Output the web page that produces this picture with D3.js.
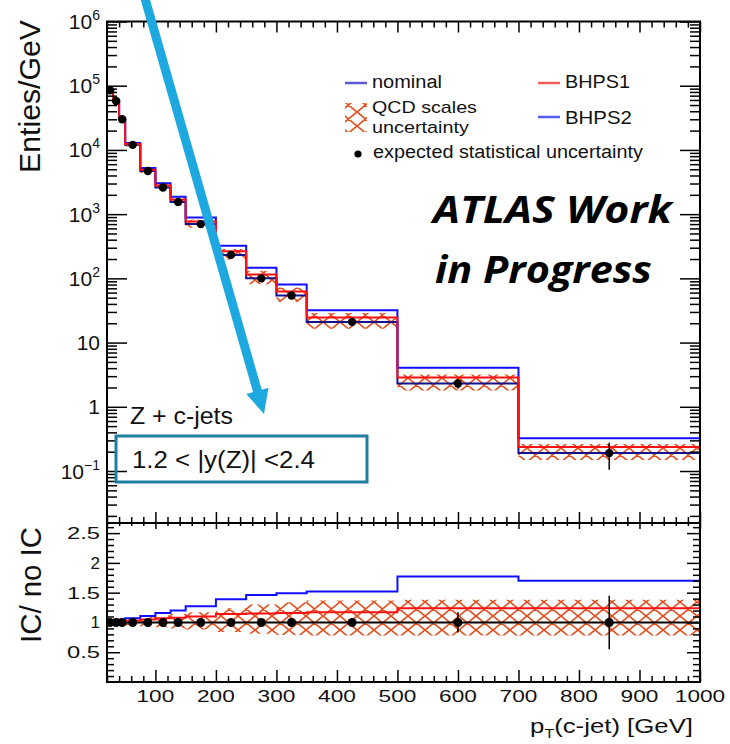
<!DOCTYPE html>
<html>
<head>
<meta charset="utf-8">
<script src="https://cdn.jsdelivr.net/npm/d3@7"></script>
<style>
  html, body { margin: 0; padding: 0; background: #fff; }
  svg { display: block; }
  text { font-family: "Liberation Sans", Arial, Helvetica, sans-serif; fill: #111; }
</style>
</head>
<body>
<svg id="chart" width="730" height="744"></svg>
<script>
// ---- data: Z + c-jet pT spectrum, 1.2 < |y(Z)| < 2.4 ----
const binEdges   = [20, 30, 40, 50, 75, 100, 125, 150, 200, 250, 300, 350, 500, 700, 1000];
// nominal prediction (entries / GeV), one value per bin
const nominal    = [8.5e4, 5.8e4, 3.0e4, 1.2e4, 4.7e3, 2.6e3, 1.55e3, 700, 232, 100, 54, 21, 2.3, 0.19];
// intrinsic-charm models relative to the no-IC prediction
const ratioBHPS1 = [1.01, 1.01, 1.02, 1.03, 1.05, 1.07, 1.08, 1.10, 1.14, 1.15, 1.16, 1.17, 1.24, 1.24];
const ratioBHPS2 = [1.04, 1.04, 1.05, 1.07, 1.11, 1.16, 1.20, 1.27, 1.39, 1.46, 1.49, 1.52, 1.77, 1.70];
// QCD scale variation envelope, relative to nominal
const scaleLo    = [0.96, 0.96, 0.95, 0.94, 0.93, 0.92, 0.90, 0.88, 0.84, 0.81, 0.79, 0.78, 0.78, 0.78];
const scaleHi    = [1.05, 1.05, 1.06, 1.08, 1.10, 1.12, 1.14, 1.17, 1.24, 1.30, 1.34, 1.37, 1.38, 1.38];
// expected relative statistical uncertainty
const statRelErr = [0.005, 0.005, 0.006, 0.007, 0.01, 0.012, 0.015, 0.015, 0.02, 0.03, 0.04, 0.05, 0.17, 0.45];

const xMajorTicks  = [100, 200, 300, 400, 500, 600, 700, 800, 900, 1000];
const yMainTicks   = [0.1, 1, 10, 100, 1e3, 1e4, 1e5, 1e6];
const yMainLabels  = [["10", "\u22121"], ["1", null], ["10", null], ["10", "2"], ["10", "3"], ["10", "4"], ["10", "5"], ["10", "6"]];
const yRatioTicks  = [0.5, 1, 1.5, 2, 2.5];
const yRatioLabels = ["0.5", "1", "1.5", "2", "2.5"];

const C = {
  nominal: "#12128c", bhps1: "#ff1010", bhps2: "#1010ff", hatch: "#e2501f",
  arrow: "#1ea8e0", box: "#1f7fa0"
};

// ---- layout ----
const L = 107, R = 700, T = 21.5, MID = 523, B = 682;
const svg = d3.select("#chart");

const x = d3.scaleLinear().domain([20, 1000]).range([L, R]);
const yMain = d3.scaleLog().domain([0.0155, 1e6]).range([MID, T]);
const yRatio = d3.scaleLinear().domain([0, 2.67]).range([B, MID]);

const centers = binEdges.slice(0, -1).map((e, i) => (e + binEdges[i + 1]) / 2);
const bhps1 = nominal.map((v, i) => v * ratioBHPS1[i]);
const bhps2 = nominal.map((v, i) => v * ratioBHPS2[i]);

const defs = svg.append("defs");
const hatch = defs.append("pattern").attr("id", "hatch")
  .attr("patternUnits", "userSpaceOnUse").attr("width", 17).attr("height", 14);
hatch.append("path").attr("d", "M0,0L17,14M17,0L0,14M-2,12L2,16M15,-2L19,2M15,16L19,12M-2,2L2,-2")
  .attr("stroke", C.hatch).attr("stroke-width", 1.7).attr("fill", "none");
defs.append("clipPath").attr("id", "clipMain").append("rect")
  .attr("x", L).attr("y", T).attr("width", R - L).attr("height", MID - T);
defs.append("clipPath").attr("id", "clipRatio").append("rect")
  .attr("x", L).attr("y", MID).attr("width", R - L).attr("height", B - MID);

// step path from per-bin values; optional start at the panel baseline
function stepPts(vals, base) {
  const pts = vals.map((v, i) => [binEdges[i], v]);
  pts.push([binEdges[vals.length], vals[vals.length - 1]]);
  if (base !== undefined) pts.unshift([binEdges[0], base]);
  return pts;
}
function stepLine(ys) {
  return d3.line().x(d => x(d[0])).y(d => ys(d[1])).curve(d3.curveStepAfter);
}
function bandArea(ys, lo, hi) {
  const pts = lo.map((v, i) => ({ e: binEdges[i], lo: v, hi: hi[i] }));
  pts.push({ e: binEdges[lo.length], lo: lo[lo.length - 1], hi: hi[hi.length - 1] });
  return d3.area().x(d => x(d.e)).y0(d => ys(d.lo)).y1(d => ys(d.hi)).curve(d3.curveStepAfter)(pts);
}

// ---- upper panel ----
const gMain = svg.append("g").attr("clip-path", "url(#clipMain)");
gMain.append("path")
  .attr("d", bandArea(yMain, nominal.map((v, i) => v * scaleLo[i]), nominal.map((v, i) => v * scaleHi[i])))
  .attr("fill", "url(#hatch)");
gMain.append("path").attr("d", stepLine(yMain)(stepPts(nominal)))
  .attr("fill", "none").attr("stroke", C.nominal).attr("stroke-width", 2);
gMain.append("path").attr("d", stepLine(yMain)(stepPts(bhps2)))
  .attr("fill", "none").attr("stroke", C.bhps2).attr("stroke-width", 2);
gMain.append("path").attr("d", stepLine(yMain)(stepPts(bhps1, yMain.domain()[0])))
  .attr("fill", "none").attr("stroke", C.bhps1).attr("stroke-width", 2);
gMain.selectAll("line.err").data(centers).join("line")
  .attr("x1", d => x(d)).attr("x2", d => x(d))
  .attr("y1", (d, i) => yMain(nominal[i] * (1 + statRelErr[i])))
  .attr("y2", (d, i) => yMain(nominal[i] * (1 - statRelErr[i])))
  .attr("stroke", "#000").attr("stroke-width", 1.5);
gMain.selectAll("circle").data(centers).join("circle")
  .attr("cx", d => x(d)).attr("cy", (d, i) => yMain(nominal[i])).attr("r", 4.2).attr("fill", "#000");

// ---- ratio panel ----
const gRatio = svg.append("g").attr("clip-path", "url(#clipRatio)");
gRatio.append("path").attr("d", bandArea(yRatio, scaleLo, scaleHi)).attr("fill", "url(#hatch)");
gRatio.append("path").attr("d", stepLine(yRatio)(stepPts(nominal.map(() => 1))))
  .attr("fill", "none").attr("stroke", "#000").attr("stroke-width", 2);
gRatio.append("path").attr("d", stepLine(yRatio)(stepPts(ratioBHPS2)))
  .attr("fill", "none").attr("stroke", C.bhps2).attr("stroke-width", 2);
gRatio.append("path").attr("d", stepLine(yRatio)(stepPts(ratioBHPS1, 0)))
  .attr("fill", "none").attr("stroke", C.bhps1).attr("stroke-width", 2);
gRatio.selectAll("line.err").data(centers).join("line")
  .attr("x1", d => x(d)).attr("x2", d => x(d))
  .attr("y1", (d, i) => yRatio(1 + statRelErr[i])).attr("y2", (d, i) => yRatio(1 - statRelErr[i]))
  .attr("stroke", "#000").attr("stroke-width", 1.5);
gRatio.selectAll("circle").data(centers).join("circle")
  .attr("cx", d => x(d)).attr("cy", yRatio(1)).attr("r", 4.5).attr("fill", "#000");

// ---- axes (ROOT style: ticks inside on all four sides) ----
const xMinor = d3.range(20, 1001, 20).filter(v => v % 100 !== 0);
const yMainMinor = [];
[0.01, 0.1, 1, 10, 100, 1e3, 1e4, 1e5].forEach(d => {
  for (let k = 2; k <= 9; k++) { const v = d * k; if (v >= 0.0155 && v < 1e6) yMainMinor.push(v); }
});
const yRatioMinor = d3.range(1, 27).map(i => i / 10).filter(v => Math.abs(v * 2 - Math.round(v * 2)) > 1e-6);

function ticks(axisFn, scale, values, size, tx, ty) {
  const g = svg.append("g").attr("transform", `translate(${tx},${ty})`)
    .call(axisFn(scale).tickValues(values).tickSize(size).tickFormat(""));
  g.select(".domain").remove();
  g.selectAll(".tick line").attr("stroke", "#000").attr("stroke-width", 1.5);
}
// upper panel
ticks(d3.axisRight, yMain, yMainTicks, 20, L, 0);
ticks(d3.axisRight, yMain, yMainMinor, 10, L, 0);
ticks(d3.axisLeft, yMain, yMainTicks, 20, R, 0);
ticks(d3.axisLeft, yMain, yMainMinor, 10, R, 0);
ticks(d3.axisBottom, x, xMajorTicks, 11, 0, T);
ticks(d3.axisBottom, x, xMinor, 6, 0, T);
ticks(d3.axisTop, x, xMajorTicks, 11, 0, MID);
ticks(d3.axisTop, x, xMinor, 6, 0, MID);
// ratio panel
ticks(d3.axisRight, yRatio, yRatioTicks, 13, L, 0);
ticks(d3.axisRight, yRatio, yRatioMinor, 7, L, 0);
ticks(d3.axisLeft, yRatio, yRatioTicks, 13, R, 0);
ticks(d3.axisLeft, yRatio, yRatioMinor, 7, R, 0);
ticks(d3.axisBottom, x, xMajorTicks, 6, 0, MID);
ticks(d3.axisBottom, x, xMinor, 3, 0, MID);
ticks(d3.axisTop, x, xMajorTicks, 12, 0, B);
ticks(d3.axisTop, x, xMinor, 6, 0, B);

svg.append("rect").attr("x", L).attr("y", T).attr("width", R - L).attr("height", MID - T)
  .attr("fill", "none").attr("stroke", "#000").attr("stroke-width", 2);
svg.append("rect").attr("x", L).attr("y", MID).attr("width", R - L).attr("height", B - MID)
  .attr("fill", "none").attr("stroke", "#000").attr("stroke-width", 2);

// ---- text helper: place text and stretch it horizontally to a given width ----
function label(opts) {
  const g = svg.append("g");
  const t = g.append("text").attr("x", 0).attr("y", 0)
    .attr("text-anchor", opts.anchor || "start")
    .style("font-size", opts.size + "px");
  if (opts.family) t.style("font-family", opts.family);
  if (opts.weight) t.style("font-weight", opts.weight);
  if (opts.italic) t.style("font-style", "italic");
  if (opts.fill) t.style("fill", opts.fill);
  (opts.parts || [[opts.text]]).forEach(p => {
    const s = t.append("tspan").text(p[0]);
    if (p[1]) s.attr("dy", p[1]);
    if (p[2]) s.style("font-size", p[2] + "px");
  });
  let sx = 1;
  if (opts.width) sx = opts.width / t.node().getComputedTextLength();
  const rot = opts.rotate ? ` rotate(${opts.rotate})` : "";
  g.attr("transform", `translate(${opts.x},${opts.y})${rot} scale(${sx},1)`);
  return g;
}

// upper y labels
yMainTicks.forEach((v, i) => {
  const [base, sup] = yMainLabels[i];
  const parts = [[base]];
  if (sup) parts.push([sup, -9, 14]);
  label({ x: 100, y: yMain(v) + 7.5, anchor: "end", size: 21, parts });
});
// ratio y labels
yRatioTicks.forEach((v, i) => {
  const s = yRatioLabels[i];
  label({ x: 100, y: yRatio(v) + 6, anchor: "end", size: 17, text: s, width: s.length === 1 ? 9.5 : 33 });
});
// x labels
xMajorTicks.forEach(v => {
  const s = String(v);
  label({ x: x(v), y: 702, anchor: "middle", size: 17, text: s, width: s.length * 12.6 });
});

// axis titles
label({ x: 40, y: 20, rotate: -90, anchor: "end", size: 29, text: "Enties/GeV", width: 153 });
label({ x: 41, y: 585, rotate: -90, anchor: "middle", size: 29, text: "IC/ no IC", width: 116 });
label({ x: 693, y: 733, anchor: "end", size: 21, width: 163,
  parts: [["p"], ["T", 5, 13], ["(c-jet) [GeV]", -5, 21]] });

// ---- legend ----
const legendLines = [
  { x1: 345, y: 83, color: "#5a5ad0" },
  { x1: 538, y: 83, color: "#f45a5a" },
  { x1: 538, y: 117, color: "#5a5af0" }
];
legendLines.forEach(d => svg.append("line").attr("x1", d.x1).attr("x2", d.x1 + 22)
  .attr("y1", d.y).attr("y2", d.y).attr("stroke", d.color).attr("stroke-width", 2.5));
svg.append("rect").attr("x", 345).attr("y", 103).attr("width", 22).attr("height", 29).attr("fill", "url(#hatch)");
svg.append("circle").attr("cx", 358).attr("cy", 154).attr("r", 3.6).attr("fill", "#000");
label({ x: 372, y: 88, size: 19, text: "nominal", width: 70 });
label({ x: 372, y: 112.5, size: 17, text: "QCD scales", width: 105 });
label({ x: 372, y: 132.5, size: 17, text: "uncertainty", width: 97 });
label({ x: 373, y: 158, size: 19, text: "expected statistical uncertainty", width: 270 });
label({ x: 565, y: 88, size: 19, text: "BHPS1", width: 65 });
label({ x: 565, y: 124, size: 19, text: "BHPS2", width: 67 });

// ---- annotations ----
label({ x: 433, y: 223, size: 38, family: "'Open Sans', sans-serif", weight: 700, italic: true,
  fill: "#000", text: "ATLAS Work", width: 239 });
label({ x: 435, y: 283, size: 38, family: "'Open Sans', sans-serif", weight: 700, italic: true,
  fill: "#000", text: "in Progress", width: 217 });
label({ x: 130, y: 424, size: 24, text: "Z + c-jets", width: 103 });
label({ x: 132, y: 468, size: 24, text: "1.2 < |y(Z)| <2.4", width: 183 });
svg.append("rect").attr("x", 116).attr("y", 436).attr("width", 251).attr("height", 46)
  .attr("fill", "none").attr("stroke", C.box).attr("stroke-width", 3);

// pointer arrow
const arrowStart = [144, -5], arrowTip = [264, 414];
const ang = Math.atan2(arrowTip[1] - arrowStart[1], arrowTip[0] - arrowStart[0]);
const headLen = 24, headHalf = 11.5;
const bx = arrowTip[0] - headLen * Math.cos(ang), by = arrowTip[1] - headLen * Math.sin(ang);
svg.append("line").attr("x1", arrowStart[0]).attr("y1", arrowStart[1])
  .attr("x2", bx + 2 * Math.cos(ang)).attr("y2", by + 2 * Math.sin(ang))
  .attr("stroke", C.arrow).attr("stroke-width", 9);
svg.append("path").attr("d", d3.line()([
  arrowTip,
  [bx + headHalf * Math.sin(ang), by - headHalf * Math.cos(ang)],
  [bx - headHalf * Math.sin(ang), by + headHalf * Math.cos(ang)]
]) + "Z").attr("fill", C.arrow);
</script>
</body>
</html>
